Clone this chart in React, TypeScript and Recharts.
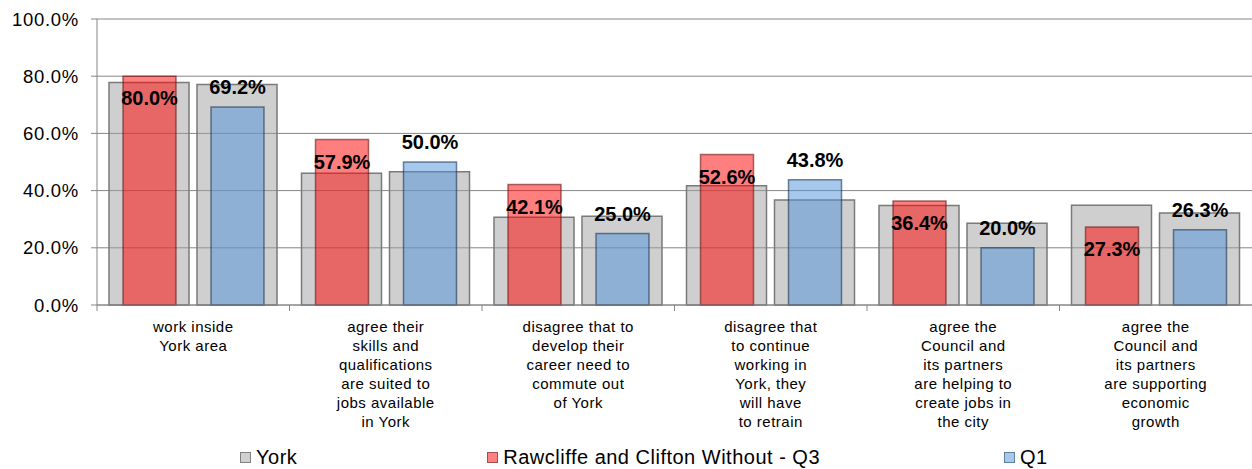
import React from 'react';
import { BarChart, Bar, XAxis, YAxis, CartesianGrid, Legend, LabelList } from 'recharts';

const categories = [
  'work inside\nYork area',
  'agree their\nskills and\nqualifications\nare suited to\njobs available\nin York',
  'disagree that to\ndevelop their\ncareer need to\ncommute out\nof York',
  'disagree that\nto continue\nworking in\nYork, they\nwill have\nto retrain',
  'agree the\nCouncil and\nits partners\nare helping to\ncreate jobs in\nthe city',
  'agree the\nCouncil and\nits partners\nare supporting\neconomic\ngrowth',
];
const yorkBesideQ3 = [77.8, 46.1, 30.7, 41.7, 34.8, 34.9];
const rawcliffeQ3 = [80.0, 57.9, 42.1, 52.6, 36.4, 27.3];
const yorkBesideQ1 = [77.1, 46.6, 31.0, 36.7, 28.6, 32.2];
const q1Values = [69.2, 50.0, 25.0, 43.8, 20.0, 26.3];
const yTicks = [0, 20, 40, 60, 80, 100];
const seriesNames = ['York', 'Rawcliffe and Clifton Without - Q3', 'Q1'];

const FONT = '"Liberation Sans", Arial, sans-serif';

const data = categories.map((cat, i) => ({
  cat,
  yorkA: yorkBesideQ3[i],
  rq3: rawcliffeQ3[i],
  yorkB: yorkBesideQ1[i],
  q1: q1Values[i],
}));

const pct = (v: any) => `${Number(v).toFixed(1)}%`;

const CategoryTick = (props: any) => {
  const { x, y, payload } = props;
  const half = payload && payload.offset != null ? payload.offset : 96.25;
  const lines = String(payload.value).split('\n');
  return (
    <g>
      <line x1={x - half} x2={x - half} y1={y} y2={y + 6} stroke="#868686" strokeWidth={1} />
      <text x={x} y={y} textAnchor="middle" fontFamily={FONT} fontSize={15} fill="#000" letterSpacing={0.5}>
        {lines.map((l, i) => (
          <tspan key={i} x={x} y={y + 27 + i * 19}>{l}</tspan>
        ))}
      </text>
    </g>
  );
};

const legendItems = [
  { name: seriesNames[0], fill: '#D0D0D0', border: '#808080', ml: 240 },
  { name: seriesNames[1], fill: '#FF8080', border: '#A05050', ml: 190 },
  { name: seriesNames[2], fill: '#A6C8EC', border: '#6080A0', ml: 184 },
];

const LegendContent = () => (
  <div
    style={{
      display: 'flex',
      justifyContent: 'flex-start',
      alignItems: 'center',
      height: 24,
      fontFamily: FONT,
      fontSize: 20,
      letterSpacing: 0.5,
      color: '#000',
      whiteSpace: 'nowrap',
    }}
  >
    {legendItems.map((it) => (
      <div key={it.name} style={{ display: 'flex', alignItems: 'center', marginLeft: it.ml }}>
        <span
          style={{
            display: 'inline-block',
            width: 9,
            height: 9,
            border: `1px solid ${it.border}`,
            background: it.fill,
            marginRight: 5,
          }}
        />
        <span>{it.name}</span>
      </div>
    ))}
  </div>
);

export default function App() {
  return (
    <div style={{ position: 'absolute', left: 0, top: 0, width: 1252, height: 469, background: '#fff' }}>
      <BarChart
        width={1252}
        height={469}
        data={data}
        margin={{ top: 19, right: 0, bottom: 0, left: 0 }}
        barGap={8}
      >
        <CartesianGrid xAxisId="a" vertical={false} stroke="#868686" strokeWidth={1} />
        <XAxis
          xAxisId="a"
          dataKey="cat"
          height={140}
          tickLine={false}
          tickSize={0}
          tickMargin={0}
          axisLine={{ stroke: '#868686' }}
          interval={0}
          tick={<CategoryTick />}
        />
        <XAxis xAxisId="b" dataKey="cat" hide />
        <YAxis
          width={97}
          domain={[0, 100]}
          ticks={yTicks}
          tickFormatter={pct}
          axisLine={{ stroke: '#868686' }}
          tickLine={{ stroke: '#868686' }}
          tickSize={6}
          tickMargin={12}
          tick={{ fontFamily: FONT, fontSize: 18.5, fill: '#000', letterSpacing: 0.7 }}
        />
        <Legend verticalAlign="bottom" content={<LegendContent />} />
        <Bar
          xAxisId="a"
          dataKey="yorkA"
          name={seriesNames[0]}
          barSize={80}
          fill="#A0A0A0"
          fillOpacity={0.5}
          stroke="#7A7A7A"
          strokeWidth={1.5}
          isAnimationActive={false}
        />
        <Bar
          xAxisId="a"
          dataKey="yorkB"
          name={seriesNames[0]}
          legendType="none"
          barSize={80}
          fill="#A0A0A0"
          fillOpacity={0.5}
          stroke="#7A7A7A"
          strokeWidth={1.5}
          isAnimationActive={false}
        />
        <Bar
          xAxisId="b"
          dataKey="rq3"
          name={seriesNames[1]}
          barSize={53}
          fill="#FF0000"
          fillOpacity={0.5}
          stroke="#6A1515"
          strokeOpacity={0.6}
          strokeWidth={1.5}
          isAnimationActive={false}
        >
          <LabelList
            dataKey="rq3"
            position="insideTop"
            offset={15}
            formatter={pct}
            fill="#000"
            stroke="none"
            fontSize={20}
            fontWeight="bold"
            fontFamily={FONT}
          />
        </Bar>
        <Bar
          xAxisId="b"
          dataKey={() => 0}
          legendType="none"
          barSize={19}
          fill="none"
          isAnimationActive={false}
        />
        <Bar
          xAxisId="b"
          dataKey="q1"
          name={seriesNames[2]}
          barSize={53}
          fill="#4D91D9"
          fillOpacity={0.5}
          stroke="#1A3550"
          strokeOpacity={0.6}
          strokeWidth={1.5}
          isAnimationActive={false}
        >
          <LabelList
            dataKey="q1"
            position="top"
            offset={13}
            formatter={pct}
            fill="#000"
            stroke="none"
            fontSize={20}
            fontWeight="bold"
            fontFamily={FONT}
          />
        </Bar>
      </BarChart>
    </div>
  );
}
